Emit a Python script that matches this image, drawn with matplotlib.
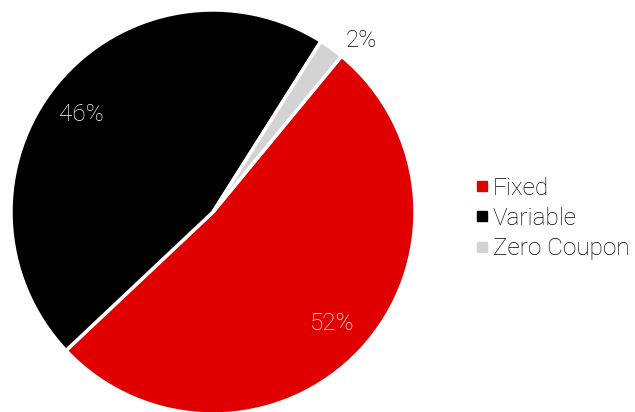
import numpy as np
import matplotlib.pyplot as plt
from matplotlib.lines import Line2D

labels = ['Fixed', 'Variable', 'Zero Coupon']
shares = [52, 46, 2]
colors = ['#e00000', '#000000', '#d3d3d3']

plt.rcParams['font.family'] = ['Roboto', 'DejaVu Sans']
plt.rcParams['font.weight'] = 'light'

fig = plt.figure(figsize=(6.35, 4.12), dpi=100)
ax = fig.add_axes([11 / 635, -2 / 412, 404 / 635, 404 / 412])

wedges, texts, autotexts = ax.pie(
    shares, colors=colors, startangle=50.5, counterclock=False,
    autopct='%d%%', pctdistance=0.81,
    wedgeprops=dict(edgecolor='white', linewidth=2.5),
    textprops=dict(fontsize=17.5, fontweight='light'))

autotexts[0].set_color('white')
autotexts[1].set_color('white')
# nudge the variable label a little lower, as in the original
w = wedges[1]
ang = np.deg2rad((w.theta1 + w.theta2) / 2 + 3)
autotexts[1].set_position((0.81 * np.cos(ang), 0.81 * np.sin(ang)))
# small slice label sits outside the pie
w = wedges[2]
ang = np.deg2rad((w.theta1 + w.theta2) / 2 - 5)
autotexts[2].set_position((1.12 * np.cos(ang), 1.12 * np.sin(ang)))
autotexts[2].set_color('black')

ax.set_xlim(-1, 1)
ax.set_ylim(-1, 1)
ax.set_aspect('equal')

handles = [Line2D([], [], marker='s', linestyle='none', markersize=7.5,
                  markerfacecolor=c, markeredgecolor=c) for c in colors]
fig.legend(handles, labels, loc='center left', bbox_to_anchor=(465 / 635, 0.47),
           frameon=False, fontsize=17.5, handlelength=0.6, handletextpad=0.15,
           labelspacing=0.3, borderaxespad=0)

fig.savefig('out.png', dpi=100)
